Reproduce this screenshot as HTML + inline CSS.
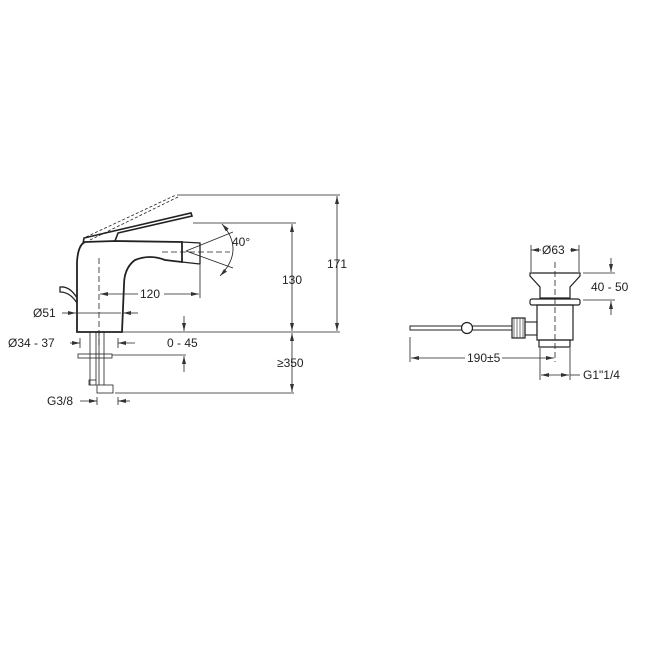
<!DOCTYPE html><html><head><style>body{margin:0;background:#fff}svg{display:block}text{font-family:"Liberation Sans",sans-serif;font-size:12px;fill:#222}</style></head><body>
<svg width="647" height="647" viewBox="0 0 647 647" xmlns="http://www.w3.org/2000/svg">
<defs><marker id="a" markerWidth="8" markerHeight="6" refX="8" refY="3" orient="auto-start-reverse" markerUnits="userSpaceOnUse"><path d="M0,1 L8,3 L0,5 Z" fill="#333" stroke="none"/></marker></defs>
<g fill="none" stroke="#222" stroke-width="0.8">
<line x1="177" y1="195" x2="340" y2="195"/><line x1="337" y1="196" x2="337" y2="331" marker-start="url(#a)" marker-end="url(#a)"/>
<line x1="193" y1="223" x2="296" y2="223"/><line x1="292" y1="224" x2="292" y2="331" marker-start="url(#a)" marker-end="url(#a)"/>
<line x1="122" y1="332" x2="340" y2="332"/>
<line x1="292" y1="333" x2="292" y2="392" marker-start="url(#a)" marker-end="url(#a)"/>
<line x1="115" y1="393" x2="294" y2="393"/>
<line x1="184" y1="316" x2="184" y2="331" marker-end="url(#a)"/><line x1="184" y1="372" x2="184" y2="356" marker-end="url(#a)"/>
<line x1="112" y1="355" x2="186" y2="355"/>
<line x1="99" y1="258" x2="99" y2="345" stroke-dasharray="6,3"/>
<line x1="62" y1="313" x2="76" y2="313" marker-end="url(#a)"/><line x1="78" y1="313" x2="121" y2="313"/><line x1="138" y1="313" x2="123" y2="313" marker-end="url(#a)"/>
<line x1="70" y1="343" x2="80" y2="343" marker-end="url(#a)"/><line x1="135" y1="343" x2="118" y2="343" marker-end="url(#a)"/>
<line x1="80" y1="338" x2="80" y2="348"/><line x1="118" y1="338" x2="118" y2="348"/>
<line x1="100" y1="294" x2="138" y2="294" marker-start="url(#a)"/><line x1="164" y1="294" x2="199" y2="294" marker-end="url(#a)"/>
<line x1="200" y1="265" x2="200" y2="298"/>
<line x1="80" y1="401" x2="97" y2="401" marker-end="url(#a)"/><line x1="130" y1="401" x2="118" y2="401" marker-end="url(#a)"/>
<line x1="97" y1="397" x2="97" y2="405"/><line x1="118" y1="397" x2="118" y2="405"/>
<path d="M77,332 L77,262 Q78,245 85,242 L115,241 L182,242 L182,262 L165,260 Q150,254 135,260 Q124,268 124,285 L122,332 Z" stroke-width="1.8"/>
<path d="M182,242 L200,243 L200,264 L182,262" stroke-width="1.3"/>
<path d="M83,244 L84,238 L191,213 L192,216 L118,233 L115,241" stroke-width="1.6"/>
<path d="M86,237 L176,195 M90,240 L178,197" stroke-dasharray="3,2"/>
<path d="M77,298 Q70,286 60,287 L60,292 Q70,292 77,303" stroke-width="1.3"/>
<line x1="162" y1="252" x2="230" y2="252" stroke-dasharray="6,3"/>
<path d="M186,251 L233,232 M186,251 L233,268"/>
<path d="M222,224 Q245,250 220,276" marker-start="url(#a)" marker-end="url(#a)"/>
<rect x="78" y="354" width="34" height="4"/>
<path d="M90,332 L90,385 M96,332 L96,380 M99,332 L99,385 M104,332 L104,385"/>
<rect x="97" y="385" width="16" height="8"/><rect x="89" y="380" width="7" height="5"/>
<line x1="531" y1="250" x2="541" y2="250" marker-start="url(#a)"/><line x1="570" y1="250" x2="579" y2="250" marker-end="url(#a)"/>
<line x1="531" y1="245" x2="531" y2="272"/><line x1="579" y1="245" x2="579" y2="272"/>
<line x1="583" y1="273" x2="615" y2="273"/><line x1="583" y1="300" x2="615" y2="300"/>
<line x1="611" y1="258" x2="611" y2="272" marker-end="url(#a)"/><line x1="611" y1="315" x2="611" y2="301" marker-end="url(#a)"/>
<line x1="555" y1="262" x2="555" y2="362" stroke-dasharray="6,3"/>
<rect x="410" y="326" width="102" height="4" stroke-width="1"/>
<circle cx="467" cy="328" r="5.5" fill="#fff" stroke-width="1.2"/>
<rect x="512" y="318" width="13" height="20" stroke-width="1.2"/>
<path d="M514,318 v20 M517,318 v20 M520,318 v20 M523,318 v20" stroke-width="0.6"/>
<rect x="525" y="322" width="12" height="13" stroke-width="1.1"/>
<path d="M530,273 L580,273 L580,276 L570,287 L570,298 L540,298 L540,287 L530,276 Z" stroke-width="1.2"/>
<rect x="530" y="299" width="50" height="6" rx="2" stroke-width="1.2"/>
<rect x="537" y="305" width="36" height="35" stroke-width="1.2"/>
<rect x="539" y="340" width="31" height="7" stroke-width="1.2"/>
<line x1="410" y1="337" x2="410" y2="362"/>
<line x1="411" y1="358" x2="465" y2="358" marker-start="url(#a)"/><line x1="502" y1="358" x2="554" y2="358" marker-end="url(#a)"/>
<line x1="540" y1="348" x2="540" y2="380"/><line x1="570" y1="348" x2="570" y2="380"/>
<line x1="541" y1="375" x2="569" y2="375" marker-start="url(#a)" marker-end="url(#a)"/><line x1="570" y1="375" x2="580" y2="375"/>
</g>
<text x="327" y="268">171</text><text x="282" y="284">130</text>
<text x="232" y="246">40°</text><text x="140" y="298">120</text>
<text x="33" y="317">Ø51</text><text x="8" y="347">Ø34 - 37</text>
<text x="167" y="347">0 - 45</text><text x="277" y="367">≥350</text>
<text x="47" y="405">G3/8</text>
<text x="542" y="254">Ø63</text><text x="591" y="291">40 - 50</text>
<text x="467" y="362">190±5</text><text x="583" y="379">G1"1/4</text>
</svg></body></html>
